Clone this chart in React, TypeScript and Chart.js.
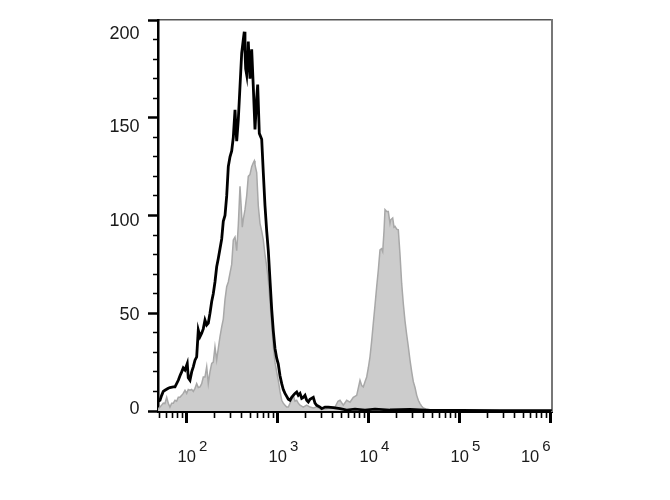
import React, { useEffect, useRef } from 'react';
import { Chart, registerables } from 'chart.js';

Chart.register(...registerables);

// Fluorescence intensity axis range (log) and count axis range
const X_MIN = 48.4;
const X_MAX = 1.033e6;
const Y_MIN = 0;
const Y_MAX = 200;

// Control (black outline) histogram
const controlIntensity = [
  48.5, 50.9, 53.1, 55.3, 57.7, 62.8, 65.5, 71.3, 74.4, 80.9, 84.4, 88.1, 91.7, 95.8, 101.5, 104.1,
  108.7, 113.5, 118.2, 123.4, 128.8, 134.1, 140.1, 146.2, 152.2, 158.9, 165.9, 172.8, 180.3, 188.3,
  196.0, 204.6, 213.6, 222.5, 232.3, 242.5, 252.5, 263.6, 275.2, 286.6, 299.2, 312.4, 325.3, 339.6,
  348.3, 354.5, 369.1, 385.3, 402.2, 418.8, 429.5, 437.2, 444.9, 456.4, 475.3, 496.2, 518.0, 539.4,
  563.1, 587.9, 602.8, 628.0, 667.2, 694.8, 725.3, 757.2, 788.5, 823.1, 859.3, 894.7, 934.0, 975.0,
  1015, 1060, 1107, 1152, 1203, 1256, 1308, 1365, 1425, 1484, 1549, 1617, 1684, 1759, 1835, 1911,
  1995, 2083, 2170, 2264, 2462, 2570, 2683, 2916, 3045, 3310, 3597, 4083, 4837, 5731, 7071, 9106,
  11730, 17140, 28430, 47170, 100760, 277300, 1030000,
];
const controlCounts = [
  5, 5.5, 8, 10, 10.6, 11.6, 12, 12.3, 12.3, 15.7, 18, 20, 22, 21, 24.3, 17,
  15.7, 20, 22.6, 26, 27.7, 41.4, 38, 39.8, 42, 46.5, 44, 45, 50, 56,
  60, 66, 73.8, 78, 83, 88, 97, 100, 110, 125, 130, 133, 140, 154,
  144, 138, 149, 166, 183, 190, 194, 184, 175, 172, 189, 170, 185, 166,
  144, 160, 167, 142, 139, 122, 105, 92, 82, 67, 52, 41, 32, 27,
  24, 18, 14, 11, 9, 7.5, 6, 5.5, 7, 8, 9, 9.7, 8, 9, 6.5, 7,
  8, 5.5, 4.6, 6, 7, 4, 2.9, 2, 1.2, 2, 2, 1.7, 1.2, 0.5, 1, 0.5,
  1, 0.5, 0.8, 0.3, 0.3, 0.2, 0.2,
];

// Stained (grey filled) histogram
const stainedIntensity = [
  48.5, 50.9, 53.1, 55.3, 57.7, 60.3, 62.8, 65.5, 68.4, 71.3, 74.4, 77.6, 80.9, 84.4, 88.1, 91.7,
  95.8, 100, 104.1, 108.7, 113.5, 118.2, 123.4, 128.8, 134.1, 140.1, 146.2, 152.2, 158.9, 165.9,
  172.8, 180.3, 188.3, 196.0, 204.6, 213.6, 222.5, 232.3, 242.5, 252.5, 263.6, 275.2, 286.6, 299.2,
  312.4, 325.3, 339.6, 354.5, 369.1, 385.3, 402.2, 408.3, 418.8, 437.2, 456.4, 475.3, 496.2, 518.0,
  539.4, 553.3, 563.1, 587.9, 612.2, 639.1, 667.2, 694.8, 725.3, 757.2, 788.5, 823.1, 859.3, 894.7,
  934.0, 975.0, 1015, 1060, 1107, 1152, 1203, 1256, 1308, 1365, 1425, 1484, 1549, 1617, 1684, 1759,
  1911, 2083, 2264, 2462, 2683, 2916, 3310, 3755, 4263, 4598, 4837, 5260, 5731, 6230, 6772, 7380,
  8024, 8377, 8722, 9106, 9506, 9899, 10335, 10790, 11232, 11730, 12243, 12750, 13312, 13820, 14251,
  14730, 15105, 15770, 16423, 17140, 17450, 18350, 18970, 19454, 20310, 21150, 22080, 23050, 24000,
  25060, 26160, 27240, 28430, 29690, 30920, 32280, 33700, 35090, 36620, 38230, 39810, 42630, 47170,
  60740, 100760, 167100, 459800, 1030000,
];
const stainedCounts = [
  1, 2, 3, 4, 3.8, 7, 4, 2, 4, 4, 5.5, 5, 7, 7, 8, 9,
  10.6, 9, 11, 10.6, 11, 10, 11.6, 14, 12, 12.3, 14, 17.4, 17.4, 22.6,
  14, 20, 24.3, 25, 32.8, 26, 32, 38, 43, 47, 57, 63.6, 66, 70.5,
  75, 87.5, 89, 82, 95, 115, 100, 94, 98, 103, 110, 120, 121, 125,
  127, 128, 126, 122, 105, 96, 92, 87.5, 80, 74, 67, 56, 44, 33,
  25, 20, 15.7, 10, 5.5, 4, 3, 2, 2, 4, 6, 8, 5, 5.5, 4, 3,
  2, 3, 2, 1.5, 2, 1.2, 1, 1.5, 2, 5, 5.5, 3, 5.5, 4.5, 7, 8,
  15.7, 13, 12.3, 15, 17.4, 22, 27.7, 36, 44.8, 54, 63.6, 72, 82.4, 83, 81.5,
  92, 103, 102, 102, 96, 97.8, 98.7, 94, 94.4, 93, 92.7, 80, 65, 55,
  46, 39, 33, 26, 20, 15, 12, 8, 5.5, 3.8, 2.5, 1.5, 1, 0.6,
  0.5, 0.4, 0.3, 0.2, 0.2,
];

// Tick labels
const xDecadeValues = [100, 1000, 10000, 100000, 1000000];
const xDecadeBase = ['10', '10', '10', '10', '10'];
const xDecadeExponent = ['2', '3', '4', '5', '6'];
const yTickValues = [0, 50, 100, 150, 200];

const FONT_FAMILY = "'Liberation Sans', Arial, Helvetica, sans-serif";

const isDecade = (v: number) => {
  const l = Math.log10(v);
  return Math.abs(l - Math.round(l)) < 1e-9;
};
const isMinor = (v: number) => {
  if (isDecade(v)) return false;
  const s = v / Math.pow(10, Math.floor(Math.log10(v) + 1e-9));
  return Math.abs(s - Math.round(s)) < 1e-6;
};
const noPadding = (s: any) => {
  s.paddingTop = 0;
  s.paddingBottom = 0;
  s.paddingLeft = 0;
  s.paddingRight = 0;
};
const zeroHeight = (s: any) => {
  s.height = 0;
  noPadding(s);
};
const zeroWidth = (s: any) => {
  s.width = 0;
  noPadding(s);
};

export default function App() {
  const canvasRef = useRef<HTMLCanvasElement | null>(null);

  useEffect(() => {
    if (!canvasRef.current) return;
    const controlData = controlIntensity.map((x, i) => ({ x, y: controlCounts[i] }));
    const stainedData = stainedIntensity.map((x, i) => ({ x, y: stainedCounts[i] }));
    const lastIdx = xDecadeValues.length - 1;

    const chart = new Chart(canvasRef.current, {
      type: 'line',
      data: {
        datasets: [
          {
            label: 'Control',
            data: controlData,
            borderColor: '#000000',
            borderWidth: 2.8,
            pointRadius: 0,
            fill: false,
            tension: 0,
            order: 0,
          },
          {
            label: 'Stained',
            data: stainedData,
            borderColor: '#a8a8a8',
            borderWidth: 1.5,
            backgroundColor: '#cccccc',
            fill: 'origin',
            pointRadius: 0,
            tension: 0,
            order: 1,
          },
        ],
      },
      options: {
        responsive: false,
        animation: false,
        devicePixelRatio: 1,
        layout: { autoPadding: false, padding: { left: 0, right: 118, top: 20, bottom: 0 } },
        plugins: { legend: { display: false }, tooltip: { enabled: false } },
        scales: {
          x: {
            type: 'logarithmic',
            position: 'bottom',
            min: X_MIN,
            max: X_MAX,
            weight: 0,
            z: 2,
            border: { display: true, color: '#000000', width: 3 },
            grid: {
              display: true,
              drawOnChartArea: false,
              drawTicks: true,
              tickLength: 7,
              tickColor: '#000000',
              tickWidth: (c: any) => (c.tick && isMinor(c.tick.value) ? 1.6 : 0),
            },
            ticks: { display: false },
            afterFit: zeroHeight,
          },
          xMajor: {
            type: 'logarithmic',
            position: 'bottom',
            min: X_MIN,
            max: X_MAX,
            weight: 1,
            z: 2,
            border: { display: false },
            grid: {
              display: true,
              drawOnChartArea: false,
              drawTicks: true,
              tickLength: 12,
              tickColor: '#000000',
              tickWidth: (c: any) => (c.tick && isDecade(c.tick.value) ? 3 : 0),
            },
            ticks: { display: false },
            afterFit: zeroHeight,
          },
          xExp: {
            type: 'logarithmic',
            position: 'bottom',
            min: X_MIN,
            max: X_MAX,
            weight: 2,
            z: 2,
            border: { display: false },
            grid: { display: false, drawTicks: false },
            afterBuildTicks: (s: any) => {
              s.ticks = xDecadeValues.map((v) => ({ value: v }));
            },
            ticks: {
              autoSkip: false,
              mirror: true,
              maxRotation: 0,
              minRotation: 0,
              padding: -44.5,
              labelOffset: 16.5,
              color: '#1a1a1a',
              font: { family: FONT_FAMILY, size: 15 },
              callback: (_v: any, i: number) =>
                i === lastIdx ? xDecadeExponent[i] + '          ' : xDecadeExponent[i],
            },
            afterFit: zeroHeight,
          },
          xTen: {
            type: 'logarithmic',
            position: 'bottom',
            min: X_MIN,
            max: X_MAX,
            weight: 10,
            border: { display: false },
            grid: { display: false, drawTicks: false },
            afterBuildTicks: (s: any) => {
              s.ticks = xDecadeValues.map((v) => ({ value: v }));
            },
            ticks: {
              autoSkip: false,
              maxRotation: 0,
              minRotation: 0,
              padding: 37,
              color: '#1a1a1a',
              font: { family: FONT_FAMILY, size: 16.5 },
              callback: (_v: any, i: number) =>
                i === lastIdx ? xDecadeBase[i] + '         ' : xDecadeBase[i],
            },
            afterFit: (s: any) => {
              s.height = 89;
              noPadding(s);
            },
          },
          xTop: {
            type: 'linear',
            position: 'top',
            z: 2,
            grid: { display: false, drawTicks: false },
            ticks: { display: false },
            border: { display: true, color: '#555555', width: 1.5 },
            afterFit: zeroHeight,
          },
          y: {
            type: 'linear',
            position: 'left',
            min: Y_MIN,
            max: Y_MAX,
            weight: 0,
            z: 2,
            border: { display: true, color: '#000000', width: 2.5 },
            grid: {
              display: true,
              drawOnChartArea: false,
              drawTicks: true,
              tickLength: 5,
              tickColor: '#000000',
              tickWidth: (c: any) => (c.tick && c.tick.value % 50 !== 0 ? 1.5 : 0),
            },
            ticks: { display: false, stepSize: 10 },
            afterFit: zeroWidth,
          },
          yMajor: {
            type: 'linear',
            position: 'left',
            min: Y_MIN,
            max: Y_MAX,
            weight: 1,
            z: 2,
            border: { display: false },
            grid: {
              display: true,
              drawOnChartArea: false,
              drawTicks: true,
              tickLength: 10,
              tickColor: '#000000',
              tickWidth: 2.5,
            },
            ticks: { display: false, stepSize: 50 },
            afterFit: zeroWidth,
          },
          yLabels: {
            type: 'linear',
            position: 'left',
            min: -0.8,
            max: 207.2,
            weight: 10,
            border: { display: false },
            grid: { display: false, drawTicks: false },
            afterBuildTicks: (s: any) => {
              s.ticks = yTickValues.map((v) => ({ value: v }));
            },
            ticks: {
              autoSkip: false,
              padding: 18.5,
              color: '#1a1a1a',
              font: { family: FONT_FAMILY, size: 18 },
              callback: (v: any) => String(v),
            },
            afterFit: (s: any) => {
              s.width = 158;
              noPadding(s);
            },
          },
          yRight: {
            type: 'linear',
            position: 'right',
            z: 2,
            grid: { display: false, drawTicks: false },
            ticks: { display: false },
            border: { display: true, color: '#777777', width: 2 },
            afterFit: zeroWidth,
          },
        },
      } as any,
    });

    return () => {
      chart.destroy();
    };
  }, []);

  return (
    <div style={{ position: 'fixed', left: 0, top: 0, width: 670, height: 500, background: '#ffffff' }}>
      <canvas ref={canvasRef} width={670} height={500} style={{ display: 'block' }} />
    </div>
  );
}
